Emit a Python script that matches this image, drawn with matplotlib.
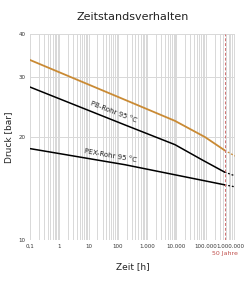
import matplotlib
matplotlib.use('Agg')
import matplotlib.pyplot as plt
import numpy as np
from matplotlib.ticker import FixedLocator, LogLocator, NullFormatter

# time [h] and pressure [bar], solid part up to 50 years
t_orange = [0.1, 174, 8900, 94000, 438000]
p_orange = [33.6, 25.7, 22.3, 20.0, 18.3]
t_orange_ext = [438000, 1000000]
p_orange_ext = [18.3, 17.6]

t_pb = [0.1, 174, 8900, 80000, 438000]
p_pb = [28.0, 21.7, 19.0, 17.1, 15.8]
t_pb_ext = [438000, 1000000]
p_pb_ext = [15.8, 15.4]

t_pex = [0.1, 174, 438000]
p_pex = [18.5, 16.6, 14.5]
t_pex_ext = [438000, 1000000]
p_pex_ext = [14.5, 14.3]

x_ticks = [0.1, 1, 10, 100, 1000, 10000, 100000, 1000000]
x_labels = ['0,1', '1', '10', '100', '1.000', '10.000', '100.000', '1.000.000']
y_ticks = [10, 20, 30, 40]
t_50y = 438000

fig = plt.figure(figsize=(2.5, 2.84), dpi=100)
ax = fig.add_axes([0.12, 0.155, 0.82, 0.725])
ax.set_xscale('log')
ax.set_yscale('log')
ax.set_xlim(0.1, 1000000)
ax.set_ylim(10, 40)

ax.xaxis.set_major_locator(FixedLocator(x_ticks))
ax.xaxis.set_minor_locator(LogLocator(base=10, subs=np.arange(2, 10)))
ax.xaxis.set_minor_formatter(NullFormatter())
# the last label sits a bit left of its tick in the original, drawn separately
ax.set_xticklabels(x_labels[:-1] + [''])
ax.yaxis.set_major_locator(FixedLocator(y_ticks))
ax.yaxis.set_minor_locator(FixedLocator([]))
ax.set_yticklabels([str(v) for v in y_ticks])

ax.grid(True, which='both', axis='x', color='#d8d8d8', lw=0.7)
ax.grid(True, which='major', axis='y', color='#d8d8d8', lw=0.7)
for s in ax.spines.values():
    s.set_visible(False)
ax.tick_params(which='both', length=0, labelsize=4, colors='#333333', pad=3)
ax.annotate(x_labels[-1], xy=(x_ticks[-1], 0), xycoords=ax.get_xaxis_transform(),
            xytext=(-3, -3), textcoords='offset points', fontsize=4,
            color='#333333', ha='center', va='top')

orange = '#c98a34'
ax.plot(t_orange, p_orange, color=orange, lw=1.3)
ax.plot(t_orange_ext, p_orange_ext, color=orange, lw=0.9, ls=(0, (1.5, 1.5)))
ax.plot(t_pb, p_pb, color='black', lw=1.1)
ax.plot(t_pb_ext, p_pb_ext, color='black', lw=0.9, ls=(0, (1.5, 1.5)))
ax.plot(t_pex, p_pex, color='black', lw=1.1)
ax.plot(t_pex_ext, p_pex_ext, color='black', lw=0.9, ls=(0, (1.5, 1.5)))

ax.axvline(t_50y, color='#d07070', lw=0.7, ls=(0, (3, 2)))

ax.text(70, 23.7, 'PB-Rohr 95 °C', fontsize=5, rotation=-21,
        ha='center', va='center', color='#222222', rotation_mode='anchor')
ax.text(54, 17.7, 'PEX-Rohr 95 °C', fontsize=5, rotation=-10,
        ha='center', va='center', color='#222222', rotation_mode='anchor')

ax.text(t_50y, -0.055, '50 Jahre', transform=ax.get_xaxis_transform(),
        fontsize=4.5, color='#c0504d', ha='center', va='top')

ax.set_title('Zeitstandsverhalten', fontsize=8, color='#222222', pad=10)
ax.set_xlabel('Zeit [h]', fontsize=6.5, color='#222222', labelpad=9)
ax.set_ylabel('Druck [bar]', fontsize=6.5, color='#222222', labelpad=4)

fig.savefig('out.png', dpi=100)
